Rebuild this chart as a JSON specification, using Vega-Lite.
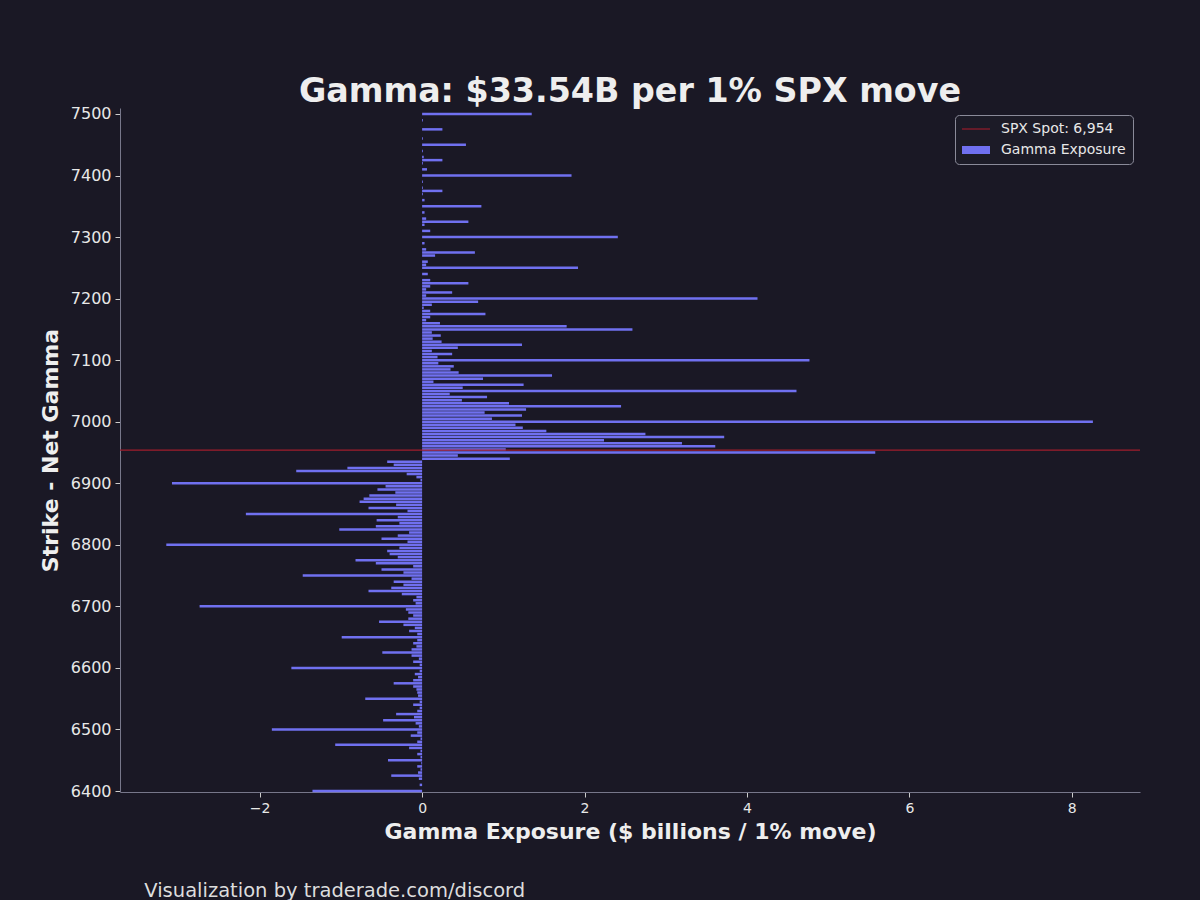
{
  "$schema": "https://vega.github.io/schema/vega-lite/v6.json",
  "background": "#1a1825",
  "padding": {"left": 39, "top": 74, "right": 60, "bottom": 10},
  "title": {
    "text": "Visualization by traderade.com/discord",
    "orient": "bottom",
    "anchor": "start",
    "frame": "bounds",
    "dx": 105,
    "offset": 40,
    "fontSize": 19.5,
    "fontWeight": "normal",
    "font": "DejaVu Sans",
    "color": "#dddddd"
  },
  "vconcat": [
    {
      "title": {
        "text": "Gamma: $33.54B per 1% SPX move",
        "fontSize": 33.3,
        "fontWeight": "bold",
        "font": "DejaVu Sans",
        "color": "#eeeeee",
        "anchor": "middle",
        "offset": -3
      },
      "width": 1020,
      "height": 684,
      "layer": [
        {
          "data": {
            "values": [
              {"strike": 7500, "gamma": 1.35}, {"strike": 7490, "gamma": 0.01}, {"strike": 7475, "gamma": 0.25},
              {"strike": 7460, "gamma": 0.01}, {"strike": 7450, "gamma": 0.54}, {"strike": 7440, "gamma": 0.01},
              {"strike": 7430, "gamma": 0.02}, {"strike": 7425, "gamma": 0.25}, {"strike": 7420, "gamma": 0.01},
              {"strike": 7410, "gamma": 0.06}, {"strike": 7400, "gamma": 1.84}, {"strike": 7390, "gamma": 0.01},
              {"strike": 7380, "gamma": 0.01}, {"strike": 7375, "gamma": 0.25}, {"strike": 7370, "gamma": 0.01},
              {"strike": 7360, "gamma": 0.03}, {"strike": 7350, "gamma": 0.73}, {"strike": 7340, "gamma": 0.03},
              {"strike": 7330, "gamma": 0.05}, {"strike": 7325, "gamma": 0.57}, {"strike": 7320, "gamma": 0.03},
              {"strike": 7310, "gamma": 0.1}, {"strike": 7300, "gamma": 2.41}, {"strike": 7290, "gamma": 0.03},
              {"strike": 7280, "gamma": 0.05}, {"strike": 7275, "gamma": 0.65}, {"strike": 7270, "gamma": 0.16},
              {"strike": 7260, "gamma": 0.07}, {"strike": 7255, "gamma": 0.05}, {"strike": 7250, "gamma": 1.92},
              {"strike": 7240, "gamma": 0.07}, {"strike": 7230, "gamma": 0.1}, {"strike": 7225, "gamma": 0.57},
              {"strike": 7220, "gamma": 0.1}, {"strike": 7215, "gamma": 0.05}, {"strike": 7210, "gamma": 0.37},
              {"strike": 7205, "gamma": 0.05}, {"strike": 7200, "gamma": 4.13}, {"strike": 7195, "gamma": 0.69},
              {"strike": 7190, "gamma": 0.12}, {"strike": 7185, "gamma": 0.02}, {"strike": 7180, "gamma": 0.1},
              {"strike": 7175, "gamma": 0.78}, {"strike": 7170, "gamma": 0.1}, {"strike": 7165, "gamma": 0.05},
              {"strike": 7160, "gamma": 0.22}, {"strike": 7155, "gamma": 1.78}, {"strike": 7150, "gamma": 2.59},
              {"strike": 7145, "gamma": 0.12}, {"strike": 7140, "gamma": 0.23}, {"strike": 7135, "gamma": 0.13},
              {"strike": 7130, "gamma": 0.24}, {"strike": 7125, "gamma": 1.23}, {"strike": 7120, "gamma": 0.44},
              {"strike": 7115, "gamma": 0.12}, {"strike": 7110, "gamma": 0.37}, {"strike": 7105, "gamma": 0.19},
              {"strike": 7100, "gamma": 4.77}, {"strike": 7095, "gamma": 0.2}, {"strike": 7090, "gamma": 0.39},
              {"strike": 7085, "gamma": 0.35}, {"strike": 7080, "gamma": 0.45}, {"strike": 7075, "gamma": 1.6},
              {"strike": 7070, "gamma": 0.75}, {"strike": 7065, "gamma": 0.14}, {"strike": 7060, "gamma": 1.25},
              {"strike": 7055, "gamma": 0.5}, {"strike": 7050, "gamma": 4.61}, {"strike": 7045, "gamma": 0.34},
              {"strike": 7040, "gamma": 0.8}, {"strike": 7035, "gamma": 0.49}, {"strike": 7030, "gamma": 1.07},
              {"strike": 7025, "gamma": 2.45}, {"strike": 7020, "gamma": 1.28}, {"strike": 7015, "gamma": 0.77},
              {"strike": 7010, "gamma": 1.23}, {"strike": 7005, "gamma": 0.86}, {"strike": 7000, "gamma": 8.26},
              {"strike": 6995, "gamma": 1.15}, {"strike": 6990, "gamma": 1.24}, {"strike": 6985, "gamma": 1.53},
              {"strike": 6980, "gamma": 2.75}, {"strike": 6975, "gamma": 3.72}, {"strike": 6970, "gamma": 2.24},
              {"strike": 6965, "gamma": 3.2}, {"strike": 6960, "gamma": 3.61}, {"strike": 6955, "gamma": 1.03},
              {"strike": 6950, "gamma": 5.58}, {"strike": 6945, "gamma": 0.44}, {"strike": 6940, "gamma": 1.08},
              {"strike": 6935, "gamma": -0.43}, {"strike": 6930, "gamma": -0.35}, {"strike": 6925, "gamma": -0.92},
              {"strike": 6920, "gamma": -1.55}, {"strike": 6915, "gamma": -0.19}, {"strike": 6910, "gamma": -0.07},
              {"strike": 6905, "gamma": -0.02}, {"strike": 6900, "gamma": -3.08}, {"strike": 6895, "gamma": -0.45},
              {"strike": 6890, "gamma": -0.55}, {"strike": 6885, "gamma": -0.33}, {"strike": 6880, "gamma": -0.65},
              {"strike": 6875, "gamma": -0.72}, {"strike": 6870, "gamma": -0.77}, {"strike": 6865, "gamma": -0.32},
              {"strike": 6860, "gamma": -0.66}, {"strike": 6855, "gamma": -0.18}, {"strike": 6850, "gamma": -2.17},
              {"strike": 6845, "gamma": -0.3}, {"strike": 6840, "gamma": -0.56}, {"strike": 6835, "gamma": -0.28},
              {"strike": 6830, "gamma": -0.57}, {"strike": 6825, "gamma": -1.02}, {"strike": 6820, "gamma": -0.16},
              {"strike": 6815, "gamma": -0.3}, {"strike": 6810, "gamma": -0.5}, {"strike": 6805, "gamma": -0.18},
              {"strike": 6800, "gamma": -3.15}, {"strike": 6795, "gamma": -0.28}, {"strike": 6790, "gamma": -0.43},
              {"strike": 6785, "gamma": -0.4}, {"strike": 6780, "gamma": -0.3}, {"strike": 6775, "gamma": -0.82},
              {"strike": 6770, "gamma": -0.57}, {"strike": 6765, "gamma": -0.11}, {"strike": 6760, "gamma": -0.5},
              {"strike": 6755, "gamma": -0.23}, {"strike": 6750, "gamma": -1.47}, {"strike": 6745, "gamma": -0.13},
              {"strike": 6740, "gamma": -0.35}, {"strike": 6735, "gamma": -0.23}, {"strike": 6730, "gamma": -0.38},
              {"strike": 6725, "gamma": -0.66}, {"strike": 6720, "gamma": -0.25}, {"strike": 6715, "gamma": -0.07},
              {"strike": 6710, "gamma": -0.11}, {"strike": 6705, "gamma": -0.08}, {"strike": 6700, "gamma": -2.74},
              {"strike": 6695, "gamma": -0.2}, {"strike": 6690, "gamma": -0.17}, {"strike": 6685, "gamma": -0.11},
              {"strike": 6680, "gamma": -0.17}, {"strike": 6675, "gamma": -0.53}, {"strike": 6670, "gamma": -0.23},
              {"strike": 6665, "gamma": -0.09}, {"strike": 6660, "gamma": -0.16}, {"strike": 6655, "gamma": -0.06},
              {"strike": 6650, "gamma": -0.99}, {"strike": 6645, "gamma": -0.06}, {"strike": 6640, "gamma": -0.11},
              {"strike": 6635, "gamma": -0.07}, {"strike": 6630, "gamma": -0.13}, {"strike": 6625, "gamma": -0.49},
              {"strike": 6620, "gamma": -0.13}, {"strike": 6615, "gamma": -0.04}, {"strike": 6610, "gamma": -0.11},
              {"strike": 6605, "gamma": -0.03}, {"strike": 6600, "gamma": -1.61}, {"strike": 6595, "gamma": -0.03},
              {"strike": 6590, "gamma": -0.09}, {"strike": 6585, "gamma": -0.05}, {"strike": 6580, "gamma": -0.11},
              {"strike": 6575, "gamma": -0.35}, {"strike": 6570, "gamma": -0.11}, {"strike": 6565, "gamma": -0.07},
              {"strike": 6560, "gamma": -0.06}, {"strike": 6555, "gamma": -0.05}, {"strike": 6550, "gamma": -0.7},
              {"strike": 6545, "gamma": -0.03}, {"strike": 6540, "gamma": -0.11}, {"strike": 6535, "gamma": -0.03},
              {"strike": 6530, "gamma": -0.06}, {"strike": 6525, "gamma": -0.32}, {"strike": 6520, "gamma": -0.1},
              {"strike": 6515, "gamma": -0.48}, {"strike": 6510, "gamma": -0.08}, {"strike": 6505, "gamma": -0.04},
              {"strike": 6500, "gamma": -1.85}, {"strike": 6495, "gamma": -0.06}, {"strike": 6490, "gamma": -0.14},
              {"strike": 6485, "gamma": -0.02}, {"strike": 6480, "gamma": -0.06}, {"strike": 6475, "gamma": -1.07},
              {"strike": 6470, "gamma": -0.16}, {"strike": 6465, "gamma": -0.02}, {"strike": 6460, "gamma": -0.06},
              {"strike": 6455, "gamma": -0.02}, {"strike": 6450, "gamma": -0.42}, {"strike": 6445, "gamma": -0.01},
              {"strike": 6440, "gamma": -0.06}, {"strike": 6435, "gamma": -0.02}, {"strike": 6430, "gamma": -0.05},
              {"strike": 6425, "gamma": -0.38}, {"strike": 6420, "gamma": -0.04}, {"strike": 6410, "gamma": -0.03},
              {"strike": 6400, "gamma": -1.35}
            ]
          },
          "mark": {"type": "bar", "orient": "horizontal", "size": 2.5},
          "encoding": {
            "y": {
              "field": "strike",
              "type": "quantitative",
              "scale": {"domain": [6398.4, 7509.7], "nice": false, "zero": false, "padding": 0},
              "axis": {
                "values": [6400, 6450, 6500, 6550, 6600, 6650, 6700, 6750, 6800, 6850, 6900, 6950, 7000, 7050, 7100, 7150, 7200, 7250, 7300, 7350, 7400, 7450, 7500],
                "format": "d",
                "title": "Strike - Net Gamma",
                "labelFontSize": 16,
                "titlePadding": 8
              }
            },
            "x": {
              "field": "gamma",
              "type": "quantitative",
              "scale": {"domain": [-3.72, 8.84], "nice": false, "zero": false, "padding": 0},
              "axis": {
                "values": [-2, 0, 2, 4, 6, 8],
                "format": "d",
                "title": "Gamma Exposure ($ billions / 1% move)",
                "labelFontSize": 14,
                "titlePadding": 6
              }
            },
            "x2": {"datum": 0},
            "color": {
              "datum": "Gamma Exposure",
              "type": "nominal",
              "scale": {
                "domain": ["SPX Spot: 6,954", "Gamma Exposure"],
                "range": ["#a01c2c", "#7070f0"]
              },
              "legend": {
                "title": null,
                "orient": "top-right",
                "offset": 7,
                "padding": 7,
                "fillColor": "#1c1b27",
                "strokeColor": "#8a8a99",
                "cornerRadius": 4,
                "labelFontSize": 14,
                "labelColor": "#e8e8e8",
                "labelFont": "DejaVu Sans",
                "symbolSize": 196,
                "symbolOffset": 7,
                "labelOffset": 18,
                "rowPadding": 7,
                "encode": {
                  "symbols": {
                    "update": {
                      "shape": {"signal": "datum.value === 'Gamma Exposure' ? 'M-2,-0.57H2V0.57H-2Z' : 'M-2,-0.08H2V0.08H-2Z'"},
                      "fill": {"signal": "datum.value === 'Gamma Exposure' ? '#7070f0' : '#a01c2c'"},
                      "fillOpacity": {"value": 1},
                      "strokeWidth": {"value": 0}
                    }
                  }
                }
              }
            }
          }
        },
        {
          "data": {"values": [{"spot": 6954, "series": "SPX Spot: 6,954"}]},
          "mark": {"type": "rule", "strokeWidth": 1.2},
          "encoding": {
            "y": {"field": "spot", "type": "quantitative"},
            "color": {
              "field": "series",
              "type": "nominal",
              "legend": {
                "title": null,
                "orient": "top-right",
                "offset": 7,
                "padding": 7,
                "fillColor": "#1c1b27",
                "strokeColor": "#8a8a99",
                "cornerRadius": 4,
                "labelFontSize": 14,
                "labelColor": "#e8e8e8",
                "labelFont": "DejaVu Sans",
                "symbolSize": 196,
                "symbolOffset": 7,
                "labelOffset": 18,
                "rowPadding": 7
              }
            }
          }
        }
      ]
    }
  ],
  "config": {
    "view": {"stroke": null},
    "font": "DejaVu Sans",
    "axis": {
      "grid": false,
      "domainColor": "#77778a",
      "tickColor": "#cccccc",
      "tickSize": 5,
      "labelColor": "#e8e8e8",
      "labelFont": "DejaVu Sans",
      "labelPadding": 4,
      "titleColor": "#eeeeee",
      "titleFont": "DejaVu Sans",
      "titleFontSize": 22,
      "titleFontWeight": "bold"
    }
  }
}
